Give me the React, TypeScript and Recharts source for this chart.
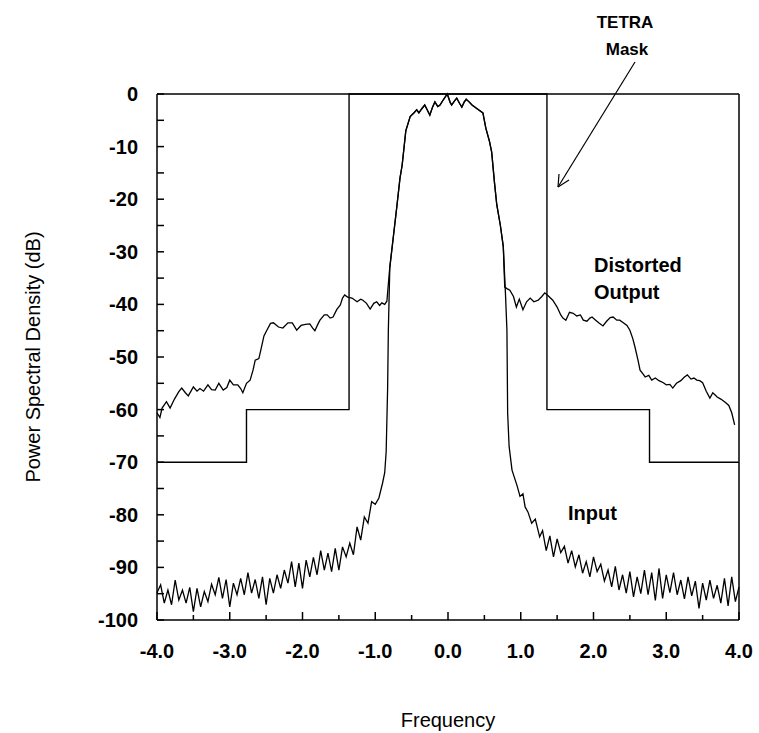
import { LineChart, Line, XAxis, YAxis, ReferenceLine, Customized } from "recharts";

type Pt = [number, number];

// TETRA mask (frequency, dB)
const maskPoints: Pt[] = [
  [-4, -70], [-2.77, -70], [-2.77, -60], [-1.36, -60], [-1.36, 0],
  [1.36, 0], [1.36, -60], [2.77, -60], [2.77, -70], [4, -70],
];

// main lobe, shared by both curves
const mainLobe: Pt[] = [
  [-0.75, -27], [-0.7, -21], [-0.66, -16], [-0.63, -13.5], [-0.58, -7], [-0.52, -4.3],
  [-0.47, -3.6], [-0.43, -3.0], [-0.4, -3.6], [-0.36, -2.8], [-0.32, -2.1], [-0.28, -3.2],
  [-0.25, -4.0], [-0.21, -2.4], [-0.18, -1.5], [-0.14, -2.4], [-0.11, -2.1], [-0.06, -1.0],
  [-0.01, 0], [0.03, -1.6], [0.05, -2.1], [0.09, -1.3], [0.12, -0.8], [0.16, -1.8],
  [0.19, -2.5], [0.22, -1.6], [0.25, -1.0], [0.29, -1.5], [0.33, -2.1], [0.4, -2.8],
  [0.48, -3.6], [0.52, -6.5], [0.57, -9.0], [0.6, -11], [0.64, -17], [0.67, -21],
  [0.72, -25], [0.76, -29],
];

// distorted output, outside the main lobe
const outputLeft: Pt[] = [
  [-4.0, -60.6], [-3.96, -61.5], [-3.93, -59.7], [-3.87, -58.5], [-3.82, -59.7], [-3.76, -58.0],
  [-3.7, -56.6], [-3.66, -55.9], [-3.61, -56.8], [-3.57, -57.4], [-3.5, -55.7], [-3.45, -56.5],
  [-3.41, -56.0], [-3.36, -56.5], [-3.3, -55.3], [-3.25, -56.2], [-3.2, -56.3], [-3.15, -55.0],
  [-3.09, -56.3], [-3.04, -55.8], [-3.0, -54.4], [-2.95, -55.3], [-2.89, -55.3], [-2.85, -56.0],
  [-2.82, -56.8], [-2.77, -55.0], [-2.72, -54.4], [-2.68, -52.5], [-2.65, -50.6], [-2.6, -50.3],
  [-2.57, -48.5], [-2.53, -46.0], [-2.49, -44.9], [-2.44, -43.6], [-2.4, -43.5], [-2.33, -44.3],
  [-2.27, -44.5], [-2.2, -43.5], [-2.14, -43.5], [-2.08, -44.9], [-2.02, -44.0], [-1.96, -43.8],
  [-1.9, -43.7], [-1.86, -44.5], [-1.83, -45.0], [-1.79, -43.8], [-1.76, -43.0], [-1.7, -42.0],
  [-1.66, -42.0], [-1.62, -42.6], [-1.58, -42.4], [-1.53, -41.0], [-1.48, -40.1], [-1.45, -38.8],
  [-1.42, -38.2], [-1.38, -38.6], [-1.32, -38.8], [-1.25, -39.5], [-1.2, -39.0], [-1.17, -39.2],
  [-1.12, -39.8], [-1.07, -40.9], [-1.02, -39.8], [-0.98, -39.5], [-0.94, -40.2], [-0.91, -39.7],
  [-0.87, -40.0], [-0.84, -39.4], [-0.8, -32.9],
];

const outputRight: Pt[] = [
  [0.78, -36.7], [0.81, -37.0], [0.85, -37.3], [0.9, -38.5], [0.94, -40.5], [0.98, -39.0],
  [1.03, -41.0], [1.08, -39.5], [1.13, -38.8], [1.18, -39.5], [1.24, -39.2], [1.29, -38.5],
  [1.33, -37.8], [1.38, -38.4], [1.44, -39.2], [1.5, -40.5], [1.55, -42.0], [1.58, -42.6],
  [1.62, -43.0], [1.67, -41.5], [1.72, -41.7], [1.77, -42.2], [1.82, -42.0], [1.86, -43.0],
  [1.91, -43.2], [1.95, -42.6], [1.98, -42.4], [2.03, -43.0], [2.08, -43.6], [2.13, -44.1],
  [2.18, -43.2], [2.23, -42.5], [2.27, -42.4], [2.32, -43.0], [2.36, -43.0], [2.41, -43.5],
  [2.46, -44.0], [2.5, -44.9], [2.54, -46.5], [2.57, -48.1], [2.61, -50.5], [2.64, -52.5],
  [2.68, -53.2], [2.71, -53.8], [2.76, -53.5], [2.8, -54.4], [2.85, -54.0], [2.9, -54.5],
  [2.96, -54.9], [3.0, -55.3], [3.05, -55.2], [3.09, -55.9], [3.14, -55.0], [3.2, -54.5],
  [3.25, -53.8], [3.29, -53.4], [3.34, -54.2], [3.38, -54.0], [3.42, -54.4], [3.46, -54.5],
  [3.5, -54.9], [3.55, -56.5], [3.6, -57.8], [3.64, -56.8], [3.7, -57.6], [3.75, -58.0],
  [3.81, -58.6], [3.86, -59.2], [3.9, -60.6], [3.94, -62.9],
];

// input signal, outside the main lobe
const inputLeft: Pt[] = [
  [-4.0, -94.8], [-3.95, -93.3], [-3.9, -96.8], [-3.85, -94.3], [-3.8, -97.1], [-3.75, -92.4],
  [-3.7, -96.2], [-3.65, -94.3], [-3.6, -96.8], [-3.55, -93.8], [-3.5, -98.4], [-3.45, -94.0],
  [-3.4, -97.5], [-3.35, -94.6], [-3.3, -96.5], [-3.25, -93.2], [-3.2, -95.2], [-3.15, -91.9],
  [-3.1, -95.9], [-3.05, -92.3], [-3.0, -97.5], [-2.95, -93.0], [-2.9, -95.2], [-2.85, -92.1],
  [-2.8, -95.2], [-2.75, -91.0], [-2.7, -94.9], [-2.65, -92.3], [-2.6, -95.9], [-2.55, -91.8],
  [-2.5, -97.1], [-2.45, -92.1], [-2.4, -94.9], [-2.35, -91.4], [-2.3, -94.0], [-2.25, -90.5],
  [-2.2, -93.0], [-2.15, -88.9], [-2.1, -93.7], [-2.05, -89.2], [-2.0, -94.0], [-1.95, -88.6],
  [-1.9, -91.8], [-1.85, -88.1], [-1.8, -91.4], [-1.75, -86.8], [-1.7, -90.5], [-1.65, -87.3],
  [-1.6, -90.8], [-1.55, -86.4], [-1.5, -90.5], [-1.45, -86.1], [-1.4, -88.0], [-1.35, -85.4],
  [-1.3, -87.6], [-1.25, -82.3], [-1.2, -84.8], [-1.15, -80.4], [-1.1, -81.6], [-1.05, -77.5],
  [-1.0, -78.0], [-0.95, -76.8], [-0.9, -74.0], [-0.87, -72.0], [-0.85, -68.0], [-0.83, -56.0],
  [-0.82, -45.0], [-0.8, -33.0],
];

const inputRight: Pt[] = [
  [0.79, -38.0], [0.81, -44.9], [0.82, -60.7], [0.84, -67.0], [0.88, -71.5], [0.95, -74.5],
  [0.99, -76.5], [1.03, -76.0], [1.06, -78.5], [1.1, -79.5], [1.15, -81.6], [1.2, -80.8],
  [1.26, -84.2], [1.3, -83.0], [1.35, -86.8], [1.4, -84.0], [1.45, -88.0], [1.5, -84.6],
  [1.55, -87.2], [1.6, -86.0], [1.65, -89.2], [1.7, -86.8], [1.75, -89.9], [1.8, -87.6],
  [1.85, -91.1], [1.9, -88.9], [1.95, -91.8], [2.0, -88.0], [2.05, -90.8], [2.1, -89.4],
  [2.15, -92.6], [2.2, -90.5], [2.25, -93.7], [2.3, -89.8], [2.35, -94.3], [2.4, -91.4],
  [2.45, -94.9], [2.5, -90.8], [2.55, -95.6], [2.6, -91.8], [2.65, -95.0], [2.7, -90.5],
  [2.75, -95.2], [2.8, -91.0], [2.85, -96.3], [2.9, -90.2], [2.95, -95.9], [3.0, -91.4],
  [3.05, -94.8], [3.1, -91.0], [3.15, -95.2], [3.2, -92.4], [3.25, -96.0], [3.3, -91.8],
  [3.35, -95.4], [3.4, -92.6], [3.45, -97.8], [3.5, -93.0], [3.55, -96.2], [3.6, -92.4],
  [3.65, -95.9], [3.7, -93.4], [3.75, -96.8], [3.8, -92.1], [3.85, -97.3], [3.9, -91.8],
  [3.95, -96.5], [4.0, -93.7],
];

const xTicks = [-4, -3.5, -3, -2.5, -2, -1.5, -1, -0.5, 0, 0.5, 1, 1.5, 2, 2.5, 3, 3.5, 4];
const yTicks = [-100, -95, -90, -85, -80, -75, -70, -65, -60, -55, -50, -45, -40, -35, -30, -25, -20, -15, -10, -5, 0];

const toRows = (pts: Pt[]) => pts.map(([f, db]) => ({ f, db }));

const maskData = toRows(maskPoints);
const outputData = toRows([...outputLeft, ...mainLobe, ...outputRight]);
const inputData = toRows([...inputLeft, ...mainLobe, ...inputRight]);

const FONT = "'Liberation Sans', Arial, sans-serif";

function XTick(props: any) {
  const { x, y, payload } = props;
  const v = payload.value as number;
  const major = Number.isInteger(v);
  return (
    <g>
      <line x1={x} x2={x} y1={y} y2={y - (major ? 8 : 5)} stroke="#000" strokeWidth={1.5} />
      {major && (
        <text x={x} y={y + 38} textAnchor="middle" fontFamily={FONT} fontWeight="bold" fontSize={20} fill="#000">
          {v.toFixed(1)}
        </text>
      )}
    </g>
  );
}

function YTick(props: any) {
  const { x, y, payload } = props;
  const v = payload.value as number;
  return (
    <g>
      <line x1={x} x2={x + 7} y1={y} y2={y} stroke="#000" strokeWidth={1.5} />
      {v % 10 === 0 && (
        <text x={x - 19} y={y + 7} textAnchor="end" fontFamily={FONT} fontWeight="bold" fontSize={20} fill="#000">
          {v}
        </text>
      )}
    </g>
  );
}

function Notes() {
  return (
    <g fontFamily={FONT} fill="#000">
      <text x={625} y={28} textAnchor="middle" fontWeight="bold" fontSize={17}>TETRA</text>
      <text x={627} y={55} textAnchor="middle" fontWeight="bold" fontSize={17}>Mask</text>
      <line x1={635} y1={62} x2={558} y2={187} stroke="#000" strokeWidth={1.2} />
      <line x1={558} y1={187} x2={559} y2={174} stroke="#000" strokeWidth={1.2} />
      <line x1={558} y1={187} x2={569} y2={180} stroke="#000" strokeWidth={1.2} />
      <text x={594} y={272} fontWeight="bold" fontSize={20}>Distorted</text>
      <text x={594} y={299} fontWeight="bold" fontSize={20}>Output</text>
      <text x={568} y={520} fontWeight="bold" fontSize={20}>Input</text>
      <text x={448} y={727} textAnchor="middle" fontSize={20}>Frequency</text>
      <text
        x={35}
        y={357}
        textAnchor="middle"
        fontSize={20}
        transform="rotate(-90 35 357)"
        dominantBaseline="middle"
      >
        Power Spectral Density (dB)
      </text>
    </g>
  );
}

export default function App() {
  return (
    <div style={{ position: "absolute", left: 0, top: 0, width: 759, height: 733, background: "#fff" }}>
      <LineChart width={759} height={733} margin={{ top: 94, right: 20, left: 0, bottom: 0 }}>
        <XAxis
          dataKey="f"
          type="number"
          domain={[-4, 4]}
          ticks={xTicks}
          interval={0}
          tickLine={false}
          tickSize={0}
          tickMargin={0}
          tick={<XTick />}
          height={113}
          axisLine={{ stroke: "#000", strokeWidth: 1.5 }}
          allowDuplicatedCategory={false}
        />
        <YAxis
          dataKey="db"
          type="number"
          domain={[-100, 0]}
          ticks={yTicks}
          interval={0}
          tickLine={false}
          tickSize={0}
          tickMargin={0}
          tick={<YTick />}
          width={157}
          axisLine={{ stroke: "#000", strokeWidth: 1.5 }}
        />
        <ReferenceLine y={0} stroke="#000" strokeWidth={1.5} />
        <ReferenceLine x={4} stroke="#000" strokeWidth={1.5} />
        <Line data={maskData} dataKey="db" type="linear" stroke="#000" strokeWidth={1.4} dot={false} isAnimationActive={false} />
        <Line data={inputData} dataKey="db" type="linear" stroke="#000" strokeWidth={1.3} dot={false} isAnimationActive={false} />
        <Line data={outputData} dataKey="db" type="linear" stroke="#000" strokeWidth={1.3} dot={false} isAnimationActive={false} />
        <Customized component={Notes} />
      </LineChart>
    </div>
  );
}
